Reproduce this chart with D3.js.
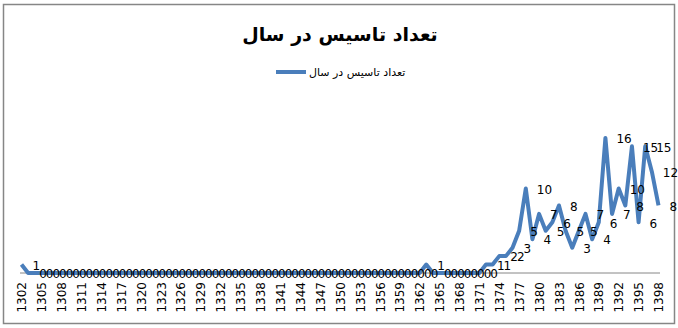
<!DOCTYPE html>
<html>
<head>
<meta charset="utf-8">
<script src="https://cdn.jsdelivr.net/npm/d3@7"></script>
<style>
  body { margin: 0; background: #fff; }
  svg { display: block; }
</style>
</head>
<body>
<div id="chart-area"></div>
<script>
// years 1302..1398
var years = [
  1302, 1303, 1304, 1305, 1306, 1307, 1308, 1309, 1310, 1311, 1312, 1313, 1314, 1315, 1316, 1317,
  1318, 1319, 1320, 1321, 1322, 1323, 1324, 1325, 1326, 1327, 1328, 1329, 1330, 1331, 1332, 1333,
  1334, 1335, 1336, 1337, 1338, 1339, 1340, 1341, 1342, 1343, 1344, 1345, 1346, 1347, 1348, 1349,
  1350, 1351, 1352, 1353, 1354, 1355, 1356, 1357, 1358, 1359, 1360, 1361, 1362, 1363, 1364, 1365,
  1366, 1367, 1368, 1369, 1370, 1371, 1372, 1373, 1374, 1375, 1376, 1377, 1378, 1379, 1380, 1381,
  1382, 1383, 1384, 1385, 1386, 1387, 1388, 1389, 1390, 1391, 1392, 1393, 1394, 1395, 1396, 1397,
  1398
];

var counts = [
  1, 0, 0, 0, 0, 0, 0, 0, 0, 0, 0, 0, 0, 0, 0, 0,
  0, 0, 0, 0, 0, 0, 0, 0, 0, 0, 0, 0, 0, 0, 0, 0,
  0, 0, 0, 0, 0, 0, 0, 0, 0, 0, 0, 0, 0, 0, 0, 0,
  0, 0, 0, 0, 0, 0, 0, 0, 0, 0, 0, 0, 0, 1, 0, 0,
  0, 0, 0, 0, 0, 0, 1, 1, 2, 2, 3, 5, 10, 4, 7, 5,
  6, 8, 5, 3, 5, 7, 4, 6, 16, 7, 10, 8, 15, 6, 15, 12,
  8
];

// every third year is labelled on the axis
var tickYears = [
  1302, 1305, 1308, 1311, 1314, 1317, 1320, 1323, 1326, 1329, 1332, 1335, 1338, 1341, 1344, 1347,
  1350, 1353, 1356, 1359, 1362, 1365, 1368, 1371, 1374, 1377, 1380, 1383, 1386, 1389, 1392, 1395,
  1398
];

var titleText = "تعداد تاسیس در سال";
var seriesName = "تعداد تاسیس در سال";

var W = 678, H = 328;
var plotLeft = 21.5, plotRight = 658.5, plotTop = 121, plotBottom = 273;
var blue = "#4a7ebb";

var svg = d3.select("#chart-area").append("svg")
  .attr("width", W)
  .attr("height", H);

// chart border
svg.append("rect")
  .attr("x", 3.5).attr("y", 4.5)
  .attr("width", 671).attr("height", 319)
  .attr("fill", "#fff")
  .attr("stroke", "#868686")
  .attr("stroke-width", 1.5);

// title
svg.append("text")
  .attr("x", 340).attr("y", 41)
  .attr("text-anchor", "middle")
  .style("font-family", "DejaVu Sans")
  .style("font-weight", "bold")
  .style("font-size", "19px")
  .text(titleText);

// legend
svg.append("line")
  .attr("x1", 276).attr("x2", 306)
  .attr("y1", 72).attr("y2", 72)
  .attr("stroke", blue)
  .attr("stroke-width", 4);
svg.append("text")
  .attr("x", 309).attr("y", 76)
  .attr("text-anchor", "start")
  .style("font-family", "DejaVu Sans")
  .style("font-size", "11px")
  .text(seriesName);

var data = years.map(function (yr, i) { return {year: yr, value: counts[i]}; });

var x = d3.scalePoint()
  .domain(years)
  .range([plotLeft, plotRight]);

var y = d3.scaleLinear()
  .domain([0, 18])
  .range([plotBottom, plotTop]);

// category axis
var xAxis = svg.append("g")
  .attr("transform", "translate(0," + plotBottom + ")")
  .call(d3.axisBottom(x).tickValues(tickYears).tickSize(0).tickPadding(0));
xAxis.select(".domain")
  .attr("d", "M" + (plotLeft - 1.5) + ",0H" + (plotRight + 1.5))
  .attr("stroke", "#868686");
xAxis.selectAll("text")
  .style("font-family", "DejaVu Sans")
  .style("font-size", "12px")
  .attr("fill", "#000")
  .style("text-anchor", "end")
  .attr("transform", "rotate(-90)")
  .attr("x", -9)
  .attr("y", 0)
  .attr("dy", "0.35em");

// line
var line = d3.line()
  .x(function (d) { return x(d.year); })
  .y(function (d) { return y(d.value); });

svg.append("path")
  .datum(data)
  .attr("fill", "none")
  .attr("stroke", blue)
  .attr("stroke-width", 4)
  .attr("stroke-linejoin", "round")
  .attr("d", line);

// data labels, placed to the right of each point
svg.selectAll(".lbl")
  .data(data)
  .enter().append("text")
  .attr("class", "lbl")
  .attr("x", function (d) { return x(d.year) + 11; })
  .attr("y", function (d) { return y(d.value) + 1; })
  .attr("dy", "0.35em")
  .style("font-family", "DejaVu Sans")
  .style("font-size", "12px")
  .attr("fill", "#000")
  .text(function (d) { return d.value; });
</script>
</body>
</html>
